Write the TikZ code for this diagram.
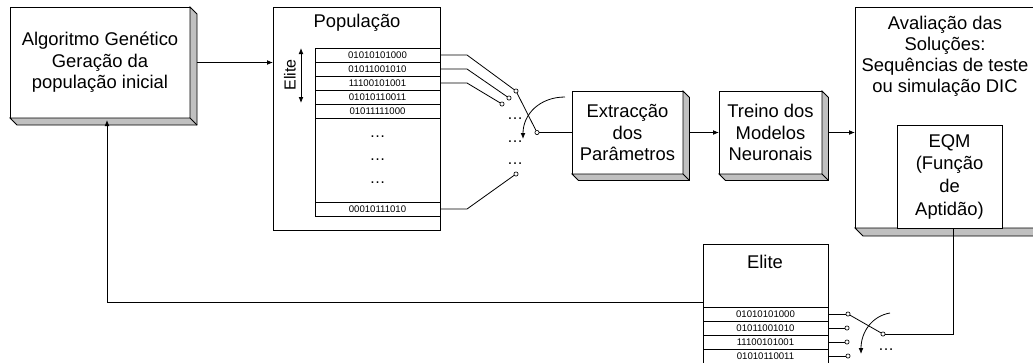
\documentclass[tikz,border=0pt]{standalone}
\usepackage{fontspec}
\setmainfont{Liberation Sans}
\usetikzlibrary{arrows.meta,calc}
\definecolor{shade}{RGB}{192,192,192}
\newcommand\mainfs{\fontsize{13.8}{16.1}\selectfont}
\newcommand\avafs{\fontsize{13.8}{15.8}\selectfont}
\newcommand\eqmfs{\fontsize{13.8}{17}\selectfont}
\newcommand\rowfs{\fontsize{7.2}{8}\selectfont}
\newcommand\dotfs{\fontsize{12}{13}\selectfont}
\newcommand\elfs{\fontsize{12}{13}\selectfont}
\newcommand\boxshade[2]{%
  \filldraw[fill=shade,line width=0.6pt] (#1.north east) -- ++(#2,#2) -- ($(#1.south east)+(#2,#2)$) -- ($(#1.south west)+(#2,#2)$) -- (#1.south west) -- (#1.south east) -- cycle;
  \draw[line width=0.6pt] (#1.south east) -- ++(#2,#2);}
\tikzset{
  box/.style={draw, fill=white, line width=0.6pt, inner sep=0pt, outer sep=0pt, anchor=north west, align=center, font=\mainfs},
  rowbox/.style={draw, line width=0.5pt, inner sep=0pt, outer sep=0pt, anchor=north west, minimum width=125*0.75pt, minimum height=14*0.75pt, font=\rowfs},
  contact/.style={circle, draw, fill=white, line width=0.5pt, inner sep=0pt, minimum size=4.2*0.75pt},
  arr/.style={-{Latex[length=4.5pt,width=3.6pt]}},
  dotsnode/.style={font=\dotfs, inner sep=0pt},
  wire/.style={line width=0.6pt},
}
\begin{document}
\begin{tikzpicture}[x=0.75pt,y=-0.75pt]
\useasboundingbox (0,0) rectangle (1033,362);
\clip (0,0) rectangle (1033,362);

% ---- Algoritmo genetico box
\node[box, minimum width=180*0.75pt, minimum height=111*0.75pt] (alg) at (10,7)
  {Algoritmo Genético\\Geração da\\população inicial};
\boxshade{alg}{7}

% ---- Populacao box
\node[box, minimum width=167*0.75pt, minimum height=223*0.75pt] (pop) at (273,7) {};
\node[font=\mainfs, inner sep=0pt] (poptitle) at (357,23) {População};
\node[rowbox] (p1) at (315,48) {01010101000};
\node[rowbox] (p2) at (315,62) {01011001010};
\node[rowbox] (p3) at (315,76) {11100101001};
\node[rowbox] (p4) at (315,90) {01010110011};
\node[rowbox] (p5) at (315,104) {01011111000};
\node[rowbox] (pl) at (315,202) {00010111010};
\draw[line width=0.5pt] (p5.south west) -- (pl.north west);
\node[dotsnode] (pd1) at (377.5,137) {…};
\node[dotsnode] (pd2) at (377.5,160) {…};
\node[dotsnode] (pd3) at (377.5,183) {…};
\draw[{Latex[length=4.5pt,width=3.6pt]}-{Latex[length=4.5pt,width=3.6pt]}, line width=0.6pt] (301,48) coordinate (ea1) -- (301,103) coordinate (ea2);
\node[font=\elfs, rotate=90, inner sep=0pt] (elitelab) at (290,75) {Elite};

% ---- switch (population)
\node[contact] (c1) at (516,91) {};
\node[contact] (c2) at (509,98) {};
\node[contact] (c3) at (502,104) {};
\node[contact] (c4) at (516,174) {};
\node[contact] (pv) at (537,132.5) {};
\node[dotsnode] (sd1) at (515,119) {…};
\node[dotsnode] (sd2) at (515,142) {…};
\node[dotsnode] (sd3) at (515,164) {…};
\draw[wire] (p1.east) -- ++(27,0) -- (c1);
\draw[wire] (p2.east) -- ++(27,0) -- (c2);
\draw[wire] (p3.east) -- ++(27,0) -- (c3);
\draw[wire] (pl.east) -- ++(27,0) -- (c4);
\draw[wire] (pv) -- (c1);
\coordinate (sa1) at (565,97);
\coordinate (sa2) at (523,139);
\draw[wire, arr] (sa1) .. controls (540,97) and (523,114) .. (sa2);

% ---- Extraccao and Treino
\node[box, minimum width=111*0.75pt, minimum height=83*0.75pt] (ext) at (572,91)
  {Extracção\\dos\\Parâmetros};
\boxshade{ext}{6.5}
\node[box, minimum width=103*0.75pt, minimum height=83*0.75pt] (tre) at (719,91)
  {Treino dos\\Modelos\\Neuronais};
\boxshade{tre}{6.5}

% ---- Avaliacao
\node[box, minimum width=181*0.75pt, minimum height=221*0.75pt] (ava) at (855,7) {};
\boxshade{ava}{8}
\node[font=\avafs, align=center, inner sep=0pt] (avatext) at (945,56)
  {Avaliação das\\Soluções:\\Sequências de teste\\ou simulação DIC};
\node[box, font=\eqmfs, minimum width=105*0.75pt, minimum height=103*0.75pt] (eqm) at (897,125)
  {EQM\\(Função\\de\\Aptidão)};

% ---- Elite box (bottom)
\node[box, minimum width=125*0.75pt, minimum height=150*0.75pt] (eli) at (703,244) {};
\node[font=\mainfs, inner sep=0pt] (elititle) at (765,262) {Elite};
\node[rowbox] (e1) at (703,307) {01010101000};
\node[rowbox] (e2) at (703,321) {01011001010};
\node[rowbox] (e3) at (703,335) {11100101001};
\node[rowbox] (e4) at (703,349) {01010110011};
\node[contact] (ec1) at (848,314) {};
\node[contact] (ec2) at (847,328) {};
\node[contact] (ec3) at (847,342) {};
\node[contact] (ec4) at (848,356) {};
\node[contact] (ep) at (883,334) {};
\node[dotsnode] (ed) at (886,350) {…};
\draw[wire] (e1.east) -- (ec1);
\draw[wire] (e2.east) -- (ec2);
\draw[wire] (e3.east) -- (ec3);
\draw[wire] (e4.east) -- (ec4);
\draw[wire] (ep) -- (ec1);
\coordinate (ea3) at (890,313);
\coordinate (ea4) at (861,354);
\draw[wire, arr] (ea3) .. controls (872,316) and (861,332) .. (ea4);

% ---- main connectors
\draw[wire, arr] ($(alg.east)+(7,0)$) -- (alg.east -| pop.west);
\draw[wire] (pv) -- (ext.west);
\draw[wire, arr] ($(ext.east)+(6.5,0)$) -- (tre.west);
\draw[wire, arr] ($(tre.east)+(6.5,0)$) -- (tre.east -| ava.west);
\coordinate (eqmout) at ($(eqm.south)+(3.5,0)$);
\draw[wire] (eqmout) |- (ep);
\coordinate (fbstart) at ($(eli.north west)+(0,58)$);
\coordinate (fbend) at ($(alg.south)+(7,2)$);
\draw[wire, arr] (fbstart) -| (fbend);
\end{tikzpicture}
\end{document}
